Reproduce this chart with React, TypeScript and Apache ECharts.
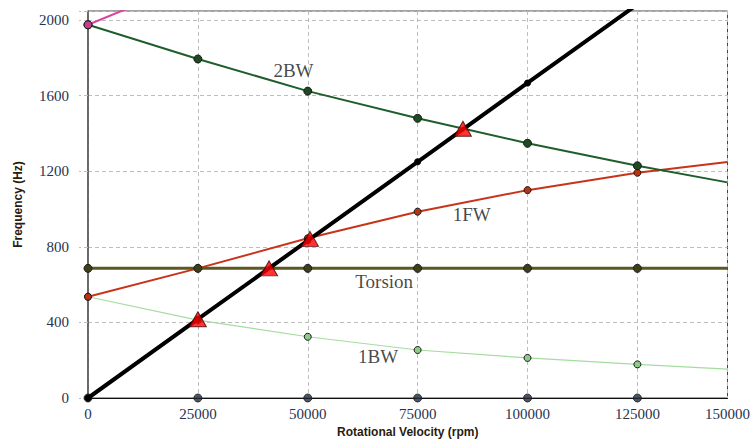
import React, { useEffect, useRef } from "react";
import * as echarts from "echarts";

// Rotational velocity nodes (rpm) where computed modes are marked
const nodeRpm = [0, 25000, 50000, 75000, 100000, 125000];
const endRpm = 145500;
const yMax = 2048;

// Tick labels as printed on the reference
const xTickLabels = ["0", "25000", "50000", "75000", "100000", "125000", "150000"];
const yTickLabels = ["0", "400", "800", "1200", "1600", "2000"];

// Mode frequencies (Hz)
const bw2 = [1975, 1794, 1624, 1480, 1348, 1229];
const bw2End = 1141;
const fw1 = [536, 686, 845, 986, 1100, 1192];
const fw1End = 1249;
const torsion = [686, 686, 686, 686, 686, 686];
const torsionEnd = 686;
const bw1 = [536, 412, 324, 254, 212, 178];
const bw1End = 153;
const excitation1x = [0, 417, 833, 1250, 1667, 2083];
const fw2Rpm = [0, 25000];
const fw2 = [1975, 2215];
const axialZero = [0, 0, 0, 0, 0, 0];

// Critical speed crossings
const crossRpm = [25000, 41200, 50500, 85300];
const crossHz = [417, 686, 842, 1425];

// Curve name labels (data coordinates)
const labelNames = ["2BW", "1FW", "Torsion", "1BW"];
const labelRpm = [46750, 87300, 67400, 66000];
const labelHz = [1735, 973, 619, 217];

const SERIF = "Liberation Serif";

function withEnd(vals: number[], end: number) {
  const d: any[] = nodeRpm.map((x, i) => [x, vals[i]]);
  d.push({ value: [endRpm, end], symbol: "none" });
  return d;
}

const tickRich = {
  t: { fontFamily: SERIF, fontSize: 15, color: "#283250" },
};

export default function App() {
  const ref = useRef<HTMLDivElement>(null);
  useEffect(() => {
    if (!ref.current) return;
    const chart = echarts.init(ref.current, undefined, { renderer: "svg" });
    const dot = (color: string) => ({ color, borderColor: "#1a1a1a", borderWidth: 1 });
    const option: any = {
      animation: false,
      backgroundColor: "#ffffff",
      textStyle: { fontFamily: SERIF },
      grid: {
        left: 88,
        right: 23,
        top: 11,
        bottom: 47,
        show: true,
        borderColor: "#444",
        borderWidth: 1,
      },
      xAxis: {
        type: "value",
        min: 0,
        max: endRpm,
        interval: 25000,
        name: "Rotational Velocity (rpm)",
        nameLocation: "middle",
        nameGap: 27,
        nameTextStyle: { fontFamily: "Liberation Sans", fontWeight: "bold", fontSize: 12, color: "#2a1a10" },
        axisLine: { lineStyle: { color: "#111", width: 1 } },
        axisTick: { show: false },
        axisLabel: {
          showMaxLabel: true,
          margin: 8,
          fontFamily: SERIF,
          fontSize: 15,
          color: "#283250",
          rich: tickRich,
          formatter: (_v: number, i: number) => `{t|${xTickLabels[i] ?? ""}}`,
        },
        splitLine: { show: true, lineStyle: { color: "#bdbdbd", type: [4, 3], width: 1 } },
      },
      yAxis: {
        type: "value",
        min: 0,
        max: yMax,
        interval: 400,
        name: "Frequency (Hz)",
        nameLocation: "middle",
        nameGap: 64,
        nameTextStyle: { fontFamily: "Liberation Sans", fontWeight: "bold", fontSize: 12, color: "#2a1a10" },
        axisLine: { lineStyle: { color: "#555", width: 1.5 } },
        axisTick: { show: true, length: 9, lineStyle: { color: "#bdbdbd", type: [4, 3] } },
        axisLabel: {
          showMaxLabel: true,
          margin: 19,
          fontFamily: SERIF,
          fontSize: 15,
          color: "#283250",
          rich: tickRich,
          formatter: (_v: number, i: number) => `{t|${yTickLabels[i] ?? ""}}`,
        },
        splitLine: { show: true, lineStyle: { color: "#bdbdbd", type: [4, 3], width: 1 } },
      },
      series: [
        {
          name: "1BW",
          type: "line",
          data: withEnd(bw1, bw1End),
          symbol: "circle",
          symbolSize: 7,
          lineStyle: { color: "#a6dca0", width: 1.2 },
          itemStyle: dot("#8ccc88"),
          z: 2,
        },
        {
          name: "1FW",
          type: "line",
          data: withEnd(fw1, fw1End),
          symbol: "circle",
          symbolSize: 7,
          lineStyle: { color: "#c8341a", width: 2 },
          itemStyle: dot("#b83214"),
          z: 3,
        },
        {
          name: "Torsion",
          type: "line",
          data: withEnd(torsion, torsionEnd),
          symbol: "circle",
          symbolSize: 8,
          lineStyle: { color: "#5c5822", width: 3 },
          itemStyle: dot("#3f3e1a"),
          z: 4,
        },
        {
          name: "2BW",
          type: "line",
          data: withEnd(bw2, bw2End),
          symbol: "circle",
          symbolSize: 8,
          lineStyle: { color: "#1f5e2c", width: 2 },
          itemStyle: dot("#1c4a22"),
          z: 5,
        },
        {
          name: "2FW",
          type: "line",
          data: fw2Rpm.map((x, i) => (i === 0 ? [x, fw2[i]] : { value: [x, fw2[i]], symbol: "none" })),
          symbol: "circle",
          symbolSize: 8,
          lineStyle: { color: "#d8449c", width: 2 },
          itemStyle: dot("#c4408c"),
          z: 6,
        },
        {
          name: "Axial",
          type: "scatter",
          data: nodeRpm.map((x, i) => [x, axialZero[i]]),
          symbol: "circle",
          symbolSize: 8,
          itemStyle: dot("#232a3c"),
          z: 6,
        },
        {
          name: "1X",
          type: "line",
          data: nodeRpm.map((x, i) => [x, excitation1x[i]]),
          symbol: "circle",
          symbolSize: 7,
          lineStyle: { color: "#000", width: 4 },
          itemStyle: { color: "#000" },
          z: 7,
        },
        {
          name: "Critical",
          type: "scatter",
          data: crossRpm.map((x, i) => [x, crossHz[i]]),
          symbol: "triangle",
          symbolSize: [17, 15],
          itemStyle: { color: "#ff0000", borderColor: "#400000", borderWidth: 1 },
          z: 8,
        },
        {
          name: "Labels",
          type: "scatter",
          data: labelNames.map((n, i) => ({ name: n, value: [labelRpm[i], labelHz[i]] })),
          symbolSize: 0,
          silent: true,
          label: {
            show: true,
            position: "inside",
            formatter: (p: any) => p.name,
            fontFamily: SERIF,
            fontSize: 19,
            color: "#161616",
          },
          z: 9,
        },
      ],
    };
    chart.setOption(option);
    return () => chart.dispose();
  }, []);
  return (
    <div
      ref={ref}
      style={{ position: "fixed", left: 0, top: 0, width: 753, height: 445 }}
    />
  );
}
